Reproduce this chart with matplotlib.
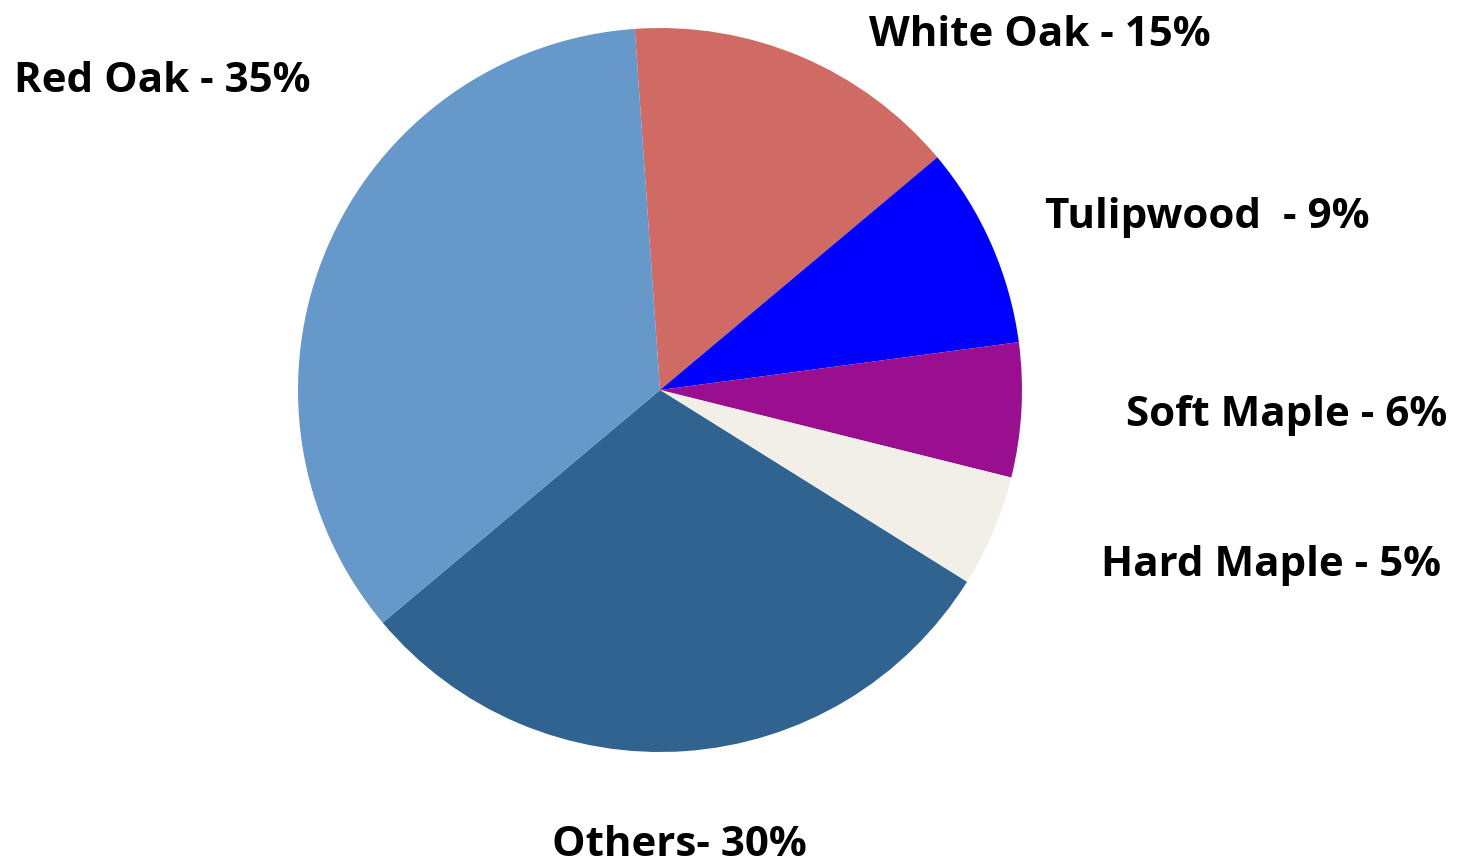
import matplotlib
matplotlib.use("Agg")
import matplotlib.pyplot as plt

labels = ["White Oak - 15%", "Tulipwood  - 9%", "Soft Maple - 6%", "Hard Maple - 5%", "Others- 30%", "Red Oak - 35%"]
values = [15, 9, 6, 5, 30, 35]
colors = ["#D06A65", "#0000FF", "#990F90", "#F2EFE9", "#316391", "#6699C9"]

W, H = 1458, 864
fig = plt.figure(figsize=(W/100, H/100), dpi=100)
cx, cy, r = 660, 390, 362
ax = fig.add_axes([(cx - r)/W, (H - cy - r)/H, 2*r/W, 2*r/H])
ax.pie(values, colors=colors, startangle=94, counterclock=False, radius=1,
       wedgeprops=dict(linewidth=0))
ax.set_xlim(-1, 1); ax.set_ylim(-1, 1); ax.set_aspect("equal"); ax.axis("off")

# label positions (pixel, left x and center y)
pos = [(869, 36), (1045, 218), (1126, 416), (1101, 566), (552, 846), (14, 82)]
for lab, (x, y) in zip(labels, pos):
    fig.text(x/W, 1 - y/H, lab, ha="left", va="center", fontsize=30.3,
             fontweight="bold", family=["Open Sans", "DejaVu Sans"], color="black")

fig.savefig("out.png", dpi=100, facecolor="white")
